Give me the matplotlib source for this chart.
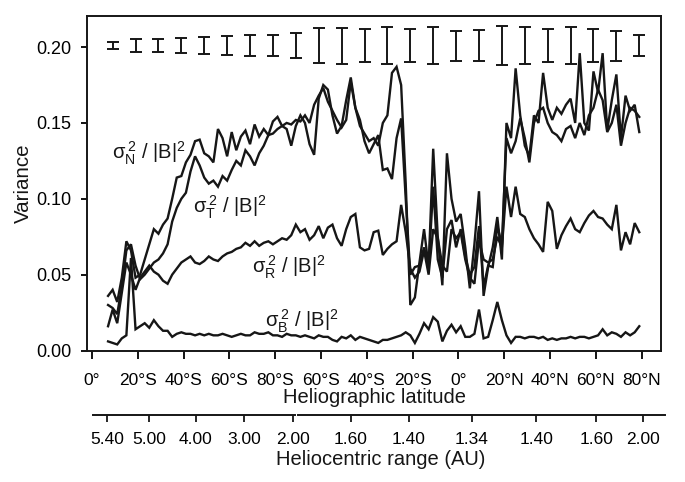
import matplotlib
matplotlib.use("Agg")
import matplotlib.pyplot as plt
import numpy as np

plt.rcParams["font.family"] = ["Liberation Sans", "DejaVu Sans"]
plt.rcParams["mathtext.fontset"] = "custom"
plt.rcParams["mathtext.rm"] = "Liberation Sans"
plt.rcParams["mathtext.it"] = "Liberation Sans"
plt.rcParams["mathtext.bf"] = "Liberation Sans:bold"

INK = "#161616"

# position along the fast latitude scan (degrees of latitude travelled)
scan_pos = np.arange(7, 241, 2)

var_n = [
    .036, .040, .032, .048, .072, .066, .048, .050, .060, .070,
    .080, .077, .083, .087, .100, .114, .115, .124, .129, .138,
    .139, .130, .128, .124, .146, .140, .128, .144, .132, .141,
    .145, .136, .149, .141, .146, .142, .151, .154, .148, .146,
    .135, .148, .155, .150, .136, .129, .166, .175, .172, .155,
    .143, .148, .165, .180, .160, .148, .143, .138, .140, .135,
    .150, .155, .183, .187, .175, .110, .030, .035, .058, .080,
    .055, .133, .075, .043, .130, .100, .085, .090, .068, .041,
    .070, .105, .036, .055, .068, .088, .060, .150, .140, .186,
    .155, .135, .128, .155, .150, .183, .160, .152, .160, .156,
    .162, .166, .150, .196, .150, .145, .184, .170, .196, .145,
    .165, .182, .140, .168, .158, .162, .144,
]

var_t = [
    .030, .028, .024, .042, .066, .070, .056, .047, .050, .054,
    .058, .060, .064, .070, .085, .094, .100, .104, .118, .128,
    .122, .114, .110, .112, .108, .115, .112, .119, .125, .122,
    .132, .128, .122, .130, .135, .142, .143, .146, .148, .150,
    .149, .152, .151, .155, .150, .162, .168, .173, .164, .158,
    .152, .147, .152, .177, .160, .152, .138, .130, .136, .142,
    .119, .120, .113, .140, .153, .100, .050, .055, .056, .068,
    .055, .108, .060, .048, .080, .086, .068, .080, .062, .050,
    .055, .082, .042, .056, .055, .082, .070, .140, .130, .138,
    .153, .140, .124, .150, .158, .160, .150, .144, .142, .138,
    .146, .148, .140, .150, .142, .155, .160, .172, .165, .144,
    .150, .162, .135, .150, .160, .158, .154,
]

var_r = [
    .016, .027, .018, .038, .058, .050, .040, .048, .052, .056,
    .052, .050, .046, .044, .050, .054, .058, .060, .062, .058,
    .057, .059, .062, .060, .059, .062, .064, .065, .067, .068,
    .071, .069, .072, .069, .071, .072, .070, .072, .074, .073,
    .076, .083, .078, .080, .073, .076, .082, .074, .081, .083,
    .074, .069, .080, .088, .090, .068, .066, .067, .078, .079,
    .063, .067, .070, .072, .096, .078, .054, .048, .052, .066,
    .050, .080, .074, .056, .052, .080, .074, .078, .060, .048,
    .044, .073, .060, .058, .060, .075, .068, .108, .088, .108,
    .090, .088, .080, .074, .070, .065, .098, .092, .067, .076,
    .082, .087, .080, .078, .084, .089, .092, .088, .087, .083,
    .080, .096, .066, .078, .070, .084, .078,
]

var_b = [
    .006, .005, .004, .008, .010, .061, .014, .016, .018, .015,
    .020, .016, .013, .013, .009, .011, .012, .011, .011, .010,
    .011, .010, .011, .010, .010, .011, .010, .009, .010, .011,
    .010, .010, .012, .011, .011, .012, .010, .010, .009, .011,
    .010, .010, .009, .010, .009, .008, .010, .009, .009, .007,
    .006, .009, .008, .010, .007, .009, .008, .007, .006, .005,
    .007, .007, .008, .009, .010, .012, .010, .005, .011, .018,
    .014, .022, .019, .006, .013, .017, .012, .016, .009, .009,
    .011, .027, .008, .009, .020, .032, .020, .010, .005, .009,
    .009, .008, .009, .009, .008, .009, .007, .008, .007, .008,
    .008, .009, .008, .009, .009, .008, .009, .010, .014, .010,
    .012, .011, .009, .012, .010, .012, .016,
]

# typical uncertainty bars drawn along the top
err_pos = np.arange(9, 240, 10)
err_half = [
    .0022, .0042, .0042, .0050, .0057, .0063, .0071, .0071, .0084, .0115,
    .0119, .0110, .0123, .0108, .0123, .0099, .0104, .0127, .0121, .0110,
    .0121, .0110, .0099, .0071,
]
err_level = 0.201

lat_ticks = np.arange(0, 241, 20)
lat_labels = ["0°", "20°S", "40°S", "60°S", "80°S", "60°S", "40°S",
              "20°S", "0°", "20°N", "40°N", "60°N", "80°N"]

range_pos = [6.5, 24.9, 45.4, 66.4, 87.8, 113.1, 138.4, 165.9, 193.9, 220.1, 240.5]
range_labels = ["5.40", "5.00", "4.00", "3.00", "2.00", "1.60",
                "1.40", "1.34", "1.40", "1.60", "2.00"]

fig = plt.figure(figsize=(6.85, 4.82), dpi=100)
ax = fig.add_axes([0.127, 0.2728, 0.838, 0.694])

for series in (var_n, var_t, var_r, var_b):
    ax.plot(scan_pos, series, color=INK, lw=1.7, solid_joinstyle="miter")

ax.errorbar(err_pos, [err_level] * len(err_pos), yerr=err_half, fmt="none",
            ecolor=INK, elinewidth=1.4, capsize=4, capthick=1.4)

ax.set_xlim(-2.2, 248.5)
ax.set_ylim(0, 0.2205)
ax.set_xticks(lat_ticks, lat_labels)
ax.set_yticks([0, 0.05, 0.10, 0.15, 0.20], ["0.00", "0.05", "0.10", "0.15", "0.20"])
ax.tick_params(axis="x", direction="out", length=6, width=1.3, pad=10, labelsize=12.5)
ax.tick_params(axis="y", direction="out", length=4, width=1.3, pad=7, labelsize=13)
for sp in ax.spines.values():
    sp.set_linewidth(1.4)
    sp.set_color(INK)

lab_kw = dict(fontsize=14.5, color=INK, va="baseline")
ax.text(8.7, 0.126, r"$\sigma_\mathrm{N}^{\,2}$ / |B|$^2$", **lab_kw)
ax.text(44.1, 0.0905, r"$\sigma_\mathrm{T}^{\,2}$ / |B|$^2$", **lab_kw)
ax.text(69.9, 0.051, r"$\sigma_\mathrm{R}^{\,2}$ / |B|$^2$", **lab_kw)
ax.text(75.5, 0.0155, r"$\sigma_\mathrm{B}^{\,2}$ / |B|$^2$", **lab_kw)

fig.text(0.034, 0.620, "Variance", rotation=90, ha="center", va="center",
         fontsize=14.8, color=INK)
fig.text(0.547, 0.176, "Heliographic latitude", ha="center", va="center",
         fontsize=14.5, color=INK)

# second scale: heliocentric distance along the same scan
ax2 = fig.add_axes([0.1358, 0.139, 0.835, 0.0001])
ax2.set_xlim(0.44, 250.2)
ax2.set_ylim(0, 1)
ax2.patch.set_visible(False)
for sp in ax2.spines.values():
    sp.set_visible(False)
ax2.axhline(0, xmin=0, xmax=0.353, color=INK, lw=1.4, clip_on=False)
ax2.axhline(0, xmin=0.359, xmax=1, color=INK, lw=1.4, clip_on=False)
ax2.set_yticks([])
ax2.set_xticks(range_pos, range_labels)
ax2.tick_params(axis="x", direction="out", length=5, width=1.3, pad=7,
                labelsize=12.5, color=INK)

fig.text(0.556, 0.046, "Heliocentric range (AU)", ha="center", va="center",
         fontsize=14.5, color=INK)

fig.savefig("out.png", dpi=100)
